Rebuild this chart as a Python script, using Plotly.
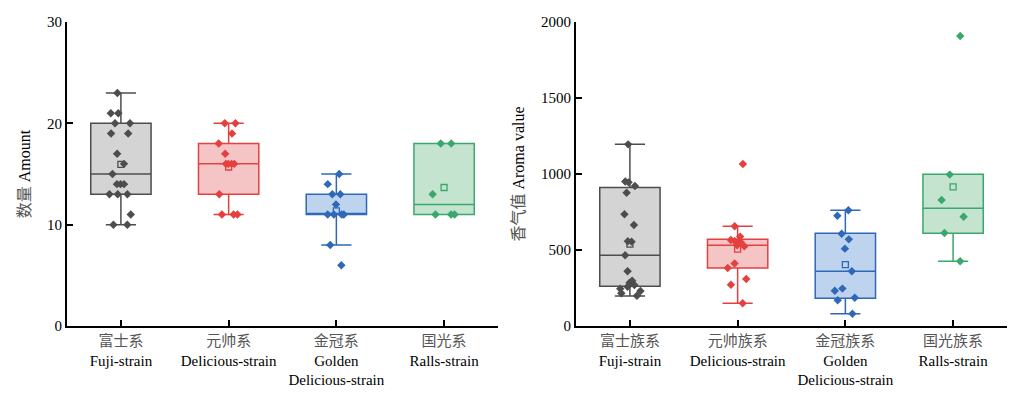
import numpy as np
import plotly.graph_objects as go

# ---------------- data ----------------
groups = ["Fuji", "Delicious", "Golden", "Ralls"]
labels_left_cn = ["富士系", "元帅系", "金冠系", "国光系"]
labels_right_cn = ["富士族系", "元帅族系", "金冠族系", "国光族系"]
labels_en = ["Fuji-strain", "Delicious-strain", "Golden<br>Delicious-strain", "Ralls-strain"]

# Amount (left panel)
amount_fuji = [23, 21, 21, 20, 20, 19, 19, 17, 16, 15, 14, 14, 14, 13, 13, 13, 11, 10, 10]
amount_delicious = [20, 20, 19, 18, 17, 16, 16, 16, 16, 13, 11, 11, 11]
amount_golden = [15, 14, 13, 13, 12, 11, 11, 11, 11, 8, 6]
amount_ralls = [18, 18, 13, 11, 11, 11]
amount_q1 = [13, 13, 11, 11]
amount_median = [15, 16, 11, 12]
amount_q3 = [20, 18, 13, 18]
amount_low = [10, 11, 8, 11]
amount_high = [23, 20, 15, 18]

# Aroma value (right panel)
aroma_fuji = [1195, 950, 945, 921, 877, 735, 664, 557, 555, 465, 360, 298, 285, 270,
              258, 245, 230, 215, 199]
aroma_delicious = [1066, 656, 588, 566, 560, 552, 531, 525, 412, 382, 309, 272, 149]
aroma_golden = [761, 726, 607, 570, 509, 360, 246, 232, 186, 169, 81]
aroma_ralls = [1908, 996, 829, 719, 612, 426]
aroma_q1 = [261, 382, 182, 610]
aroma_median = [465, 531, 360, 774]
aroma_q3 = [912, 570, 610, 998]
aroma_low = [197, 149, 81, 426]
aroma_high = [1195, 656, 761, 998]

# ---------------- styles ----------------
line_colors = ["#4d4d4d", "#e4403f", "#2f68b8", "#3aa86c"]
fill_colors = ["#d4d4d4", "#f5c4c4", "#bed3ee", "#c4e4d0"]
FONT = "Liberation Serif, Times New Roman, Noto Sans CJK SC, serif"
CN = '<span style="color:#555">{}</span>'

fig = go.Figure()


def add_panel(xa, ya, series, q1, med, q3, low, high):
    for i, g in enumerate(groups):
        fig.add_trace(go.Box(
            x=[g], q1=[q1[i]], median=[med[i]], q3=[q3[i]],
            lowerfence=[low[i]], upperfence=[high[i]],
            boxpoints=False, width=0.56, whiskerwidth=0.5,
            fillcolor=fill_colors[i], line=dict(color=line_colors[i], width=1.5),
            xaxis=xa, yaxis=ya, showlegend=False, hoverinfo="skip"))
    for i, g in enumerate(groups):
        vals = series[i]
        fig.add_trace(go.Scatter(
            x=[g], y=[float(np.mean(vals))], mode="markers",
            marker=dict(symbol="square-open", size=6, color=line_colors[i],
                        line=dict(width=1.3, color=line_colors[i])),
            xaxis=xa, yaxis=ya, showlegend=False))
    for i, g in enumerate(groups):
        vals = series[i]
        fig.add_trace(go.Box(
            x=[g] * len(vals), y=vals, boxpoints="all", jitter=0.45, pointpos=0,
            width=0.56, fillcolor="rgba(0,0,0,0)",
            line=dict(color="rgba(0,0,0,0)", width=0),
            marker=dict(symbol="diamond", size=6.5, color=line_colors[i]),
            xaxis=xa, yaxis=ya, showlegend=False))


add_panel("x", "y", [amount_fuji, amount_delicious, amount_golden, amount_ralls],
          amount_q1, amount_median, amount_q3, amount_low, amount_high)
add_panel("x2", "y2", [aroma_fuji, aroma_delicious, aroma_golden, aroma_ralls],
          aroma_q1, aroma_median, aroma_q3, aroma_low, aroma_high)

ticks_left = [CN.format(c) + "<br>" + e for c, e in zip(labels_left_cn, labels_en)]
ticks_right = [CN.format(c) + "<br>" + e for c, e in zip(labels_right_cn, labels_en)]

xcommon = dict(type="category", categoryorder="array", categoryarray=groups,
               range=[-0.5, 3.5], showline=True, linewidth=2, linecolor="black",
               ticks="inside", ticklen=6, tickwidth=2, tickcolor="black",
               showgrid=False, zeroline=False, tickvals=groups, automargin=False,
               tickfont=dict(family=FONT, size=15, color="black"))
ycommon = dict(showline=True, linewidth=2, linecolor="black", ticks="inside",
               ticklen=6, tickwidth=2, tickcolor="black", showgrid=False,
               zeroline=False, automargin=False, domain=[0, 1],
               tickfont=dict(family=FONT, size=15, color="black"),
               title_font=dict(family=FONT, size=16, color="black"))

fig.update_layout(
    width=1018, height=398, margin=dict(l=0, r=0, t=14, b=80, autoexpand=False),
    plot_bgcolor="white", paper_bgcolor="white", boxmode="overlay",
    xaxis=dict(domain=[0.058, 0.4813], ticktext=ticks_left, anchor="y", **xcommon),
    xaxis2=dict(domain=[0.558, 0.9813], ticktext=ticks_right, anchor="y2", **xcommon),
    yaxis=dict(range=[0, 30], dtick=10, anchor="x",
               title=dict(text=CN.format("数量") + " Amount", standoff=12), **ycommon),
    yaxis2=dict(range=[0, 2000], dtick=500, anchor="x2",
                title=dict(text=CN.format("香气值") + " Aroma value", standoff=12), **ycommon),
)

fig.write_html("out.html")
